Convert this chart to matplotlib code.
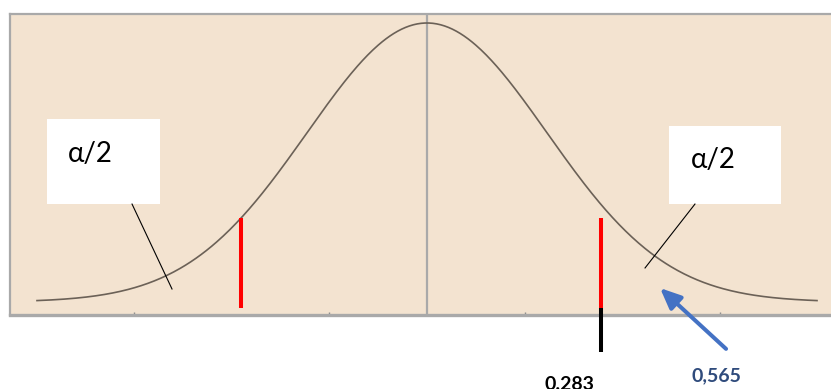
import numpy as np
import matplotlib
matplotlib.use("Agg")
import matplotlib.pyplot as plt
from matplotlib.patches import Rectangle

# ---- data (standardised units) ----
mean = 0.0
sd = 1.0
curve_range = [-3.25, 3.25]
crit_x = [-1.55, 1.45]          # red critical lines
crit_top = 0.30
marker_x = 1.45                 # black extension under right red line
labels_bottom = ["0.283", "0,565"]
tail_label = "α/2"
minor_ticks = [-2.44, -0.82, 0.82, 2.44]

W, H = 831, 389
fig = plt.figure(figsize=(W / 100, H / 100), dpi=100)
fig.patch.set_facecolor("white")

# axes geometry in pixels
ax_l, ax_top, ax_bot, ax_w = 10, 13.5, 315, 834
ax = fig.add_axes([ax_l / W, (H - ax_bot) / H, ax_w / W, (ax_bot - ax_top) / H])
ax.set_facecolor("#f3e3d0")
ax.set_xlim(-3.475, 3.475)
ax.set_ylim(-0.0466, 1.034)

for s in ax.spines.values():
    s.set_color("#a9a9a9")
    s.set_linewidth(1.6)
ax.spines["bottom"].set_linewidth(2.4)
ax.set_xticks(minor_ticks)
ax.set_yticks([])
ax.tick_params(axis="x", direction="in", length=2, width=1, color="#8c8c8c",
               labelbottom=False)

# centre line
ax.axvline(mean, color="#a9a9a9", lw=1.6, zorder=1)

# density curve (peak normalised to 1)
z = np.linspace(curve_range[0], curve_range[1], 600)
dens = np.exp(-0.5 * ((z - mean) / sd) ** 2)
ax.plot(z, dens, color="#6b6157", lw=1.2, zorder=3)

# red critical lines
for cx in crit_x:
    ax.plot([cx, cx], [-0.0215, crit_top], color="#ff0000", lw=2.9,
            solid_capstyle="butt", zorder=4)

# black extension below axis
ax.plot([marker_x, marker_x], [-0.0215, -0.179], color="black", lw=2.9,
        solid_capstyle="butt", clip_on=False, zorder=5)

# callout boxes
boxes = [(-3.167, 0.351, 0.942, 0.305), (2.017, 0.351, 0.933, 0.280)]
for (bx, by, bw, bh) in boxes:
    ax.add_patch(Rectangle((bx, by), bw, bh, facecolor="white",
                           edgecolor="none", zorder=5))
ax.text(-2.992, 0.502, tail_label, fontsize=20, family=["Lato", "DejaVu Sans"],
        va="baseline", ha="left", zorder=6)
ax.text(2.20, 0.480, tail_label, fontsize=20, family=["Lato", "DejaVu Sans"],
        va="baseline", ha="left", zorder=6)

# leader lines
ax.plot([-2.458, -2.125], [0.351, 0.0466], color="black", lw=0.8, zorder=6)
ax.plot([2.233, 1.817], [0.351, 0.122], color="black", lw=0.8, zorder=6)

# blue arrow
ax.annotate("", xy=(1.942, 0.050), xytext=(2.492, -0.168),
            arrowprops=dict(arrowstyle="-|>,head_length=1.25,head_width=0.55",
                            mutation_scale=10, color="#4472c4", lw=2.9,
                            shrinkA=0, shrinkB=0),
            annotation_clip=False, zorder=7)

# bottom labels
ax.text(1.1875, -0.315, labels_bottom[0], fontsize=14, fontweight="bold",
        family=["Lato", "DejaVu Sans"], ha="center", va="baseline",
        color="black", clip_on=False)
ax.text(2.408, -0.285, labels_bottom[1], fontsize=14, fontweight="bold",
        family=["Lato", "DejaVu Sans"], ha="center", va="baseline",
        color="#2f4b7c", clip_on=False)

fig.savefig("out.png", dpi=100, facecolor="white")
